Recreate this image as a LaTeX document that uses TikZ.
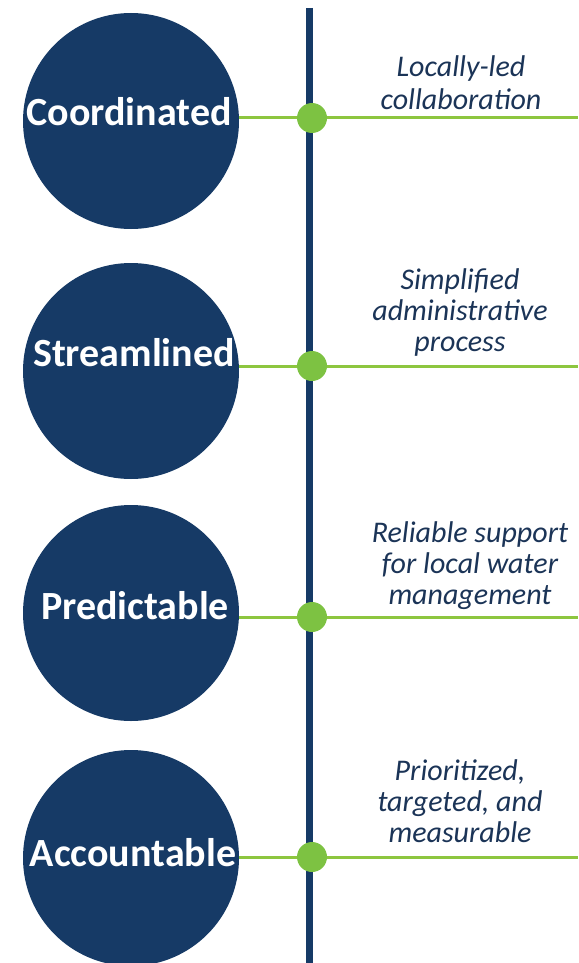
\documentclass[tikz,border=0pt]{standalone}
\usepackage{fontspec}
\setmainfont{Carlito}
\definecolor{navy}{HTML}{163A66}
\definecolor{txtnavy}{HTML}{1B3457}
\definecolor{lgreen}{HTML}{8DC63F}
\definecolor{dgreen}{HTML}{7DC242}
\begin{document}
\begin{tikzpicture}[x=1pt,y=1pt,
  bigcircle/.style={circle,fill=navy,minimum size=216pt,inner sep=0pt},
  ctext/.style={text=white,font=\fontsize{40}{44}\selectfont\bfseries,anchor=base,inner sep=0pt},
  dot/.style={circle,fill=dgreen,minimum size=30pt,inner sep=0pt},
  gline/.style={draw=lgreen,line width=3pt},
  label/.style={align=center,text=txtnavy,font=\fontsize{30}{31}\selectfont\itshape,anchor=base,inner sep=0pt},
]
\useasboundingbox (0,0) rectangle (578,-963);
\coordinate (top) at (309,-8);
\coordinate (bot) at (309,-970);
\draw[navy,line width=7pt] (top) -- (bot);

\node[bigcircle] (c1) at (131,-121) {};
\node[bigcircle] (c2) at (131,-371) {};
\node[bigcircle] (c3) at (131,-613) {};
\node[bigcircle] (c4) at (131,-858) {};

\coordinate (e1) at (578,-118);
\coordinate (e2) at (578,-366);
\coordinate (e3) at (578,-617);
\coordinate (e4) at (578,-857);

\node[dot] (d1) at (312,-118) {};
\node[dot] (d2) at (312,-366) {};
\node[dot] (d3) at (312,-617) {};
\node[dot] (d4) at (312,-857) {};

\draw[gline] (c1.east |- d1) -- (d1.west);
\draw[gline] (d1.east) -- (e1);
\draw[gline] (c2.east |- d2) -- (d2.west);
\draw[gline] (d2.east) -- (e2);
\draw[gline] (c3.east |- d3) -- (d3.west);
\draw[gline] (d3.east) -- (e3);
\draw[gline] (c4.east |- d4) -- (d4.west);
\draw[gline] (d4.east) -- (e4);

\node[ctext] (t1) at (129,-125) {Coordinated};
\node[ctext] (t2) at (134,-366) {Streamlined};
\node[ctext] (t3) at (135,-619) {Predictable};
\node[ctext] (t4) at (133,-866) {Accountable};

\node[label] (l1) at (461,-110) {Locally-led\\[2pt]collaboration};
\node[label] (l2) at (460,-351) {Simplified\\administrative\\process};
\node[label] (l3) at (470,-604) {Reliable support\\for local water\\management};
\node[label] (l4) at (460,-842) {Prioritized,\\targeted, and\\measurable};
\end{tikzpicture}
\end{document}
